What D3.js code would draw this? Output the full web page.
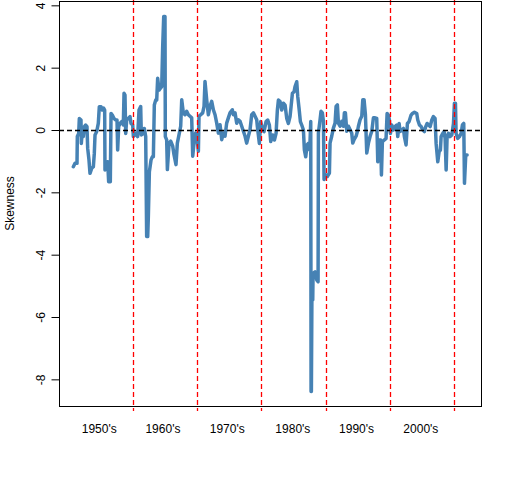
<!DOCTYPE html>
<html>
<head>
<meta charset="utf-8">
<script src="https://cdn.jsdelivr.net/npm/d3@7"></script>
<style>
  body { margin: 0; background: #fff; }
  text { font-family: "Liberation Sans", Arial, sans-serif; font-size: 12px; fill: #000; }
</style>
</head>
<body>
<div id="chart"></div>
<script>
// rolling skewness
const years = [
  1950.77, 1951.03, 1951.34, 1951.39, 1951.60, 1951.70, 1951.96, 1952.01, 1952.17, 1952.32,
  1952.48, 1952.69, 1952.89, 1953.00, 1953.20, 1953.36, 1953.62, 1953.88, 1954.03, 1954.14,
  1954.40, 1954.65, 1954.81, 1955.07, 1955.28, 1955.49, 1955.64, 1955.69, 1955.95, 1956.11,
  1956.26, 1956.52, 1956.63, 1956.83, 1957.09, 1957.35, 1957.56, 1957.66, 1957.82, 1958.02,
  1958.28, 1958.54, 1958.65, 1958.80, 1958.91, 1959.06, 1959.32, 1959.58, 1959.74, 1960.00,
  1960.10, 1960.36, 1960.51, 1960.77, 1960.98, 1961.24, 1961.34, 1961.65, 1961.81, 1962.02,
  1962.17, 1962.33, 1962.43, 1962.59, 1962.85, 1963.05, 1963.21, 1963.36, 1963.57, 1963.73,
  1963.88, 1964.09, 1964.30, 1964.51, 1964.66, 1964.82, 1965.02, 1965.07, 1965.28, 1965.39,
  1965.65, 1965.91, 1966.22, 1966.42, 1966.73, 1966.94, 1967.25, 1967.46, 1967.62, 1967.87,
  1968.13, 1968.39, 1968.65, 1968.91, 1969.17, 1969.33, 1969.59, 1969.79, 1970.05, 1970.21,
  1970.31, 1970.57, 1970.88, 1971.09, 1971.24, 1971.50, 1971.76, 1972.02, 1972.28, 1972.54,
  1972.80, 1973.06, 1973.32, 1973.58, 1973.84, 1974.10, 1974.35, 1974.61, 1974.87, 1975.13,
  1975.49, 1975.65, 1975.91, 1976.17, 1976.43, 1976.69, 1976.95, 1977.21, 1977.47, 1977.72,
  1977.98, 1978.24, 1978.50, 1978.76, 1979.02, 1979.28, 1979.38, 1979.69, 1979.90, 1980.21,
  1980.42, 1980.73, 1980.99, 1981.25, 1981.46, 1981.77, 1982.03, 1982.29, 1982.49, 1982.65,
  1982.91, 1983.17, 1983.43, 1983.69, 1983.95, 1984.20, 1984.46, 1984.62, 1984.83, 1985.09,
  1985.24, 1985.50, 1985.66, 1985.86, 1986.07, 1986.28, 1986.54, 1986.69, 1986.90, 1987.11,
  1987.31, 1987.52, 1987.68, 1987.73, 1987.78, 1987.88, 1987.99, 1988.04, 1988.35, 1988.61,
  1988.82, 1988.87, 1989.13, 1989.28, 1989.49, 1989.65, 1989.75, 1989.96, 1990.27, 1990.58,
  1990.68, 1990.94, 1991.20, 1991.46, 1991.62, 1991.82, 1991.98, 1992.24, 1992.50, 1992.76,
  1992.91, 1993.07, 1993.28, 1993.54, 1993.80, 1994.05, 1994.21, 1994.42, 1994.73, 1994.94,
  1995.09, 1995.35, 1995.61, 1995.77, 1995.97, 1996.18, 1996.39, 1996.65, 1996.91, 1997.17,
  1997.42, 1997.68, 1997.94, 1998.10, 1998.31, 1998.56, 1998.67, 1998.82, 1999.13, 1999.39,
  1999.55, 1999.76, 1999.91, 2000.07, 2000.28, 2000.53, 2000.79, 2001.05, 2001.21, 2001.42,
  2001.57, 2001.83, 2002.09, 2002.24, 2002.50, 2002.71, 2002.97, 2003.28, 2003.49, 2003.80,
  2004.16, 2004.32, 2004.58, 2004.84, 2005.10, 2005.35, 2005.56, 2005.77, 2005.98, 2006.24,
  2006.50, 2006.75, 2007.01, 2007.17, 2007.43, 2007.64, 2007.84, 2007.95, 2008.21, 2008.41,
  2008.57, 2008.73, 2008.88, 2009.09, 2009.35, 2009.61, 2009.87, 2010.02, 2010.18, 2010.28,
  2010.54, 2010.80, 2011.06, 2011.26, 2011.47, 2011.58, 2011.78, 2011.99
];

const skew = [
  -1.18, -1.07, -1.07, -0.21, -0.11, 0.37, 0.32, -0.43, 0.00, -0.21,
  0.11, 0.16, 0.11, -0.59, -0.96, -1.39, -1.23, -1.18, -0.75, -0.16,
  -0.05, 0.21, 0.75, 0.75, 0.64, 0.70, 0.64, -1.28, -1.18, -1.02,
  -1.66, -1.66, 0.53, 0.48, 0.37, 0.32, 0.32, -0.64, 0.11, 0.21,
  0.27, 0.16, 1.18, 1.12, -0.11, 0.32, 0.37, 0.43, 0.21, 0.16,
  -0.21, -0.16, -0.11, -0.21, 0.64, 0.75, -0.16, -0.11, 0.05, -0.21,
  -3.42, -3.42, -2.78, -1.34, -0.96, -0.86, -0.86, 0.80, 0.96, 0.96,
  1.66, 1.28, 1.34, 1.39, 2.67, 3.64, 3.64, -0.21, -0.32, -1.27,
  -0.42, -0.36, -0.52, -0.79, -1.11, -0.42, -0.10, 0.12, 0.97, 0.55,
  0.49, 0.60, 0.49, 0.44, 0.39, -0.84, -0.31, -0.10, -0.36, -0.68,
  0.44, 0.49, 0.55, 0.76, 1.56, 0.97, 0.49, 0.76, 0.92, 0.65,
  0.49, 0.22, -0.10, 0.17, -0.31, -0.10, -0.20, 0.22, 0.39, 0.55,
  0.65, 0.49, 0.55, 0.22, 0.33, 0.28, 0.12, -0.04, -0.20, -0.42,
  -0.20, 0.01, 0.49, 0.55, 0.44, 0.33, 0.11, -0.43, 0.27, 0.00,
  -0.05, 0.27, 0.32, 0.16, -0.37, -0.16, -0.32, -0.11, 0.64, 0.96,
  0.91, 0.64, 0.86, 0.80, 0.37, 0.21, 0.43, 0.75, 1.18, 1.23,
  1.39, 1.55, 1.07, 0.70, 0.27, 0.16, 0.00, -0.64, -0.86, -0.48,
  -0.43, -0.64, 0.27, -8.39, -8.39, -4.60, -5.45, -4.60, -4.55, -4.81,
  -4.87, -0.10, 0.33, 0.60, 0.55, 0.28, -1.59, -1.43, -1.49, -1.38,
  -0.42, -0.20, 0.06, 0.22, 0.76, 0.81, 0.22, 0.12, 0.28, 0.12,
  0.55, 0.55, -0.04, 0.12, 0.01, -0.10, -0.42, -0.31, -0.20, -0.04,
  0.12, 0.33, 0.44, 0.97, 0.97, 0.49, -0.74, -0.42, -0.20, -0.04,
  0.39, 0.39, 0.37, -1.02, -0.32, -0.32, -1.44, -0.37, -0.32, -0.27,
  0.53, 0.48, 0.32, -0.11, 0.16, 0.00, 0.11, 0.16, -0.21, 0.21,
  -0.05, 0.00, 0.05, -0.21, -0.48, 0.21, 0.27, 0.48, 0.53, 0.57,
  0.53, 0.32, 0.16, 0.11, 0.00, -0.05, 0.11, 0.21, 0.16, 0.11,
  0.32, 0.43, 0.37, -0.43, -1.02, -0.70, -0.64, -0.21, -0.11, -0.05,
  -0.27, -1.28, -0.21, -0.11, -0.21, -0.16, 0.21, 0.86, 0.86, -0.11,
  -0.27, -0.21, -0.11, 0.16, 0.21, -1.71, -0.80, -0.80
];

const decadeBreaks = [1960, 1970, 1980, 1990, 2000, 2010];
const decadeLabels = ["1950's", "1960's", "1970's", "1980's", "1990's", "2000's"];
const labelYears = [1954.8, 1964.7, 1974.7, 1984.9, 1994.8, 2004.8];
const yTicks = [-8, -6, -4, -2, 0, 2, 4];

const width = 512, height = 480;
const plotLeft = 59, plotRight = 481, plotTop = 1, plotBottom = 406;

const svg = d3.select("#chart")
  .append("svg")
  .attr("width", width)
  .attr("height", height);

svg.append("rect").attr("width", width).attr("height", height).attr("fill", "#fff");

const x = d3.scaleLinear().domain([1948.54, 2014.15]).range([plotLeft, plotRight]);
const y = d3.scaleLinear().domain([-8.855, 4.139]).range([plotBottom, plotTop]);

const points = years.map((yr, i) => [yr, skew[i]]);

// the series
svg.append("path")
  .datum(points)
  .attr("fill", "none")
  .attr("stroke", "#4682B4")
  .attr("stroke-width", 3.5)
  .attr("stroke-linejoin", "round")
  .attr("stroke-linecap", "round")
  .attr("d", d3.line().x(d => x(d[0])).y(d => y(d[1])));

// zero line
svg.append("line")
  .attr("x1", plotLeft).attr("x2", plotRight)
  .attr("y1", Math.round(y(0)) + 0.5).attr("y2", Math.round(y(0)) + 0.5)
  .attr("stroke", "#000")
  .attr("stroke-width", 1.3)
  .attr("stroke-dasharray", "5,3");

// decade separators
svg.append("g")
  .selectAll("line")
  .data(decadeBreaks)
  .enter().append("line")
  .attr("x1", d => Math.round(x(d)) + 0.5)
  .attr("x2", d => Math.round(x(d)) + 0.5)
  .attr("y1", 0)
  .attr("y2", plotBottom + 5)
  .attr("stroke", "#ff0000")
  .attr("stroke-width", 1.3)
  .attr("stroke-dasharray", "5,3");

// y axis
const yAxis = svg.append("g")
  .attr("transform", `translate(${plotLeft + 0.5},0)`)
  .call(d3.axisLeft(y).tickValues(yTicks).tickSize(8).tickSizeOuter(0).tickFormat(d => String(d)));
yAxis.select(".domain").remove();
yAxis.selectAll(".tick line").attr("stroke", "#000");
yAxis.selectAll(".tick text")
  .attr("x", null).attr("dy", null)
  .attr("text-anchor", "middle")
  .attr("transform", "translate(-15,0) rotate(-90)")
  .style("font-family", "'Liberation Sans', Arial, sans-serif")
  .style("font-size", "12px")
  .attr("fill", "#000");

// box
svg.append("rect")
  .attr("x", plotLeft + 0.5).attr("y", plotTop + 0.5)
  .attr("width", plotRight - plotLeft).attr("height", plotBottom - plotTop)
  .attr("fill", "none")
  .attr("stroke", "#000");

// decade labels
svg.append("g")
  .selectAll("text")
  .data(decadeLabels)
  .enter().append("text")
  .attr("x", (d, i) => x(labelYears[i]))
  .attr("y", 433)
  .attr("text-anchor", "middle")
  .text(d => d);

svg.append("text")
  .attr("transform", `translate(14,${(plotTop + plotBottom) / 2}) rotate(-90)`)
  .attr("text-anchor", "middle")
  .text("Skewness");
</script>
</body>
</html>
